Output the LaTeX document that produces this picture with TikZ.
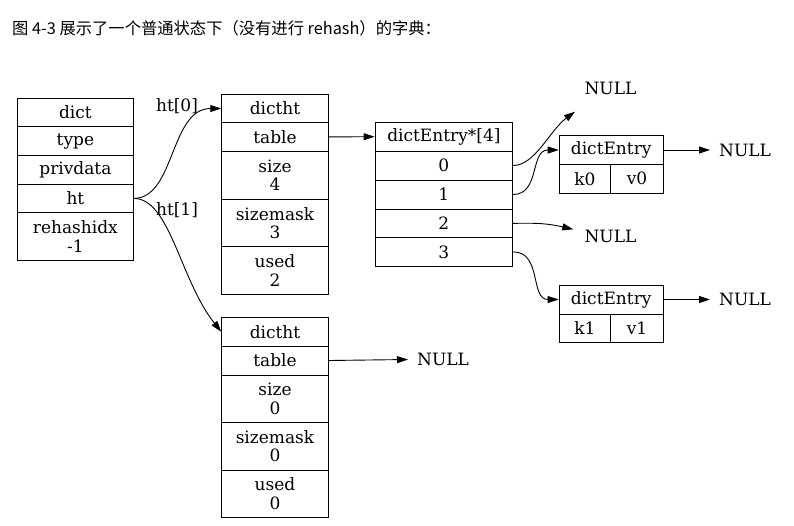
\documentclass[tikz,border=0pt]{standalone}
\usepackage{fontspec}
\newfontfamily\cjk{Noto Sans CJK SC}
\newfontfamily\dfont{DejaVu Serif}
\usetikzlibrary{arrows.meta}
\begin{document}
\begin{tikzpicture}[x=1pt,y=-1pt,
  cell/.style={draw, line width=0.9pt, inner sep=0pt, align=center,
    font=\dfont\fontsize{17}{18.3}\selectfont},
  nulltxt/.style={inner xsep=9pt, inner ysep=2pt, font=\dfont\fontsize{17}{18.3}\selectfont},
  lbl/.style={inner sep=0pt, font=\dfont\fontsize{17}{18.3}\selectfont},
  arr/.style={-{Triangle[length=11pt,width=7pt]}, line width=0.9pt}]
\useasboundingbox (0,0) rectangle (794,525);
\node[anchor=west, inner sep=0pt, font=\cjk\fontsize{16.3}{17}\selectfont] (title) at (12,28) {图 4-3 展示了一个普通状态下（没有进行 rehash）的字典：};

% dict
\node[cell, minimum width=115.8pt, minimum height=28.4pt] (dict) at (75.4,112.5) {dict};
\node[cell, minimum width=115.8pt, minimum height=29pt] (type) at (75.4,141.2) {type};
\node[cell, minimum width=115.8pt, minimum height=28.3pt] (priv) at (75.4,169.9) {privdata};
\node[cell, minimum width=115.8pt, minimum height=28.7pt] (ht) at (75.4,198.4) {ht};
\node[cell, minimum width=115.8pt, minimum height=47.3pt] (rehash) at (75.4,236.4) {rehashidx\\ -1};

% dictht 0
\node[cell, minimum width=106.6pt, minimum height=28.4pt] (ha) at (275,108.5) {dictht};
\node[cell, minimum width=106.6pt, minimum height=28.3pt] (hatable) at (275,136.9) {table};
\node[cell, minimum width=106.6pt, minimum height=48pt] (hasize) at (275,175) {size\\ 4};
\node[cell, minimum width=106.6pt, minimum height=47.7pt] (hamask) at (275,222.9) {sizemask\\ 3};
\node[cell, minimum width=106.6pt, minimum height=47.3pt] (haused) at (275,270.4) {used\\ 2};

% dictht 1
\node[cell, minimum width=106.6pt, minimum height=28.7pt] (hb) at (275,331.7) {dictht};
\node[cell, minimum width=106.6pt, minimum height=29pt] (hbtable) at (275,360.5) {table};
\node[cell, minimum width=106.6pt, minimum height=47.7pt] (hbsize) at (275,398.9) {size\\ 0};
\node[cell, minimum width=106.6pt, minimum height=47.3pt] (hbmask) at (275,446.4) {sizemask\\ 0};
\node[cell, minimum width=106.6pt, minimum height=47.3pt] (hbused) at (275,493.7) {used\\ 0};

% table array
\node[cell, minimum width=137.7pt, minimum height=28.7pt] (arrh) at (443.9,136.7) {dictEntry*[4]};
\node[cell, minimum width=137.7pt, minimum height=29pt] (s0) at (443.9,165.5) {0};
\node[cell, minimum width=137.7pt, minimum height=29pt] (s1) at (443.9,194.5) {1};
\node[cell, minimum width=137.7pt, minimum height=28.7pt] (s2) at (443.9,223.4) {2};
\node[cell, minimum width=137.7pt, minimum height=28.3pt] (s3) at (443.9,251.9) {3};

% dictEntry 0
\node[cell, minimum width=104.3pt, minimum height=28.6pt] (ea) at (611.2,150) {dictEntry};
\node[cell, minimum width=51.7pt, minimum height=29pt] (k0) at (584.9,178.8) {k0};
\node[cell, minimum width=52.6pt, minimum height=29pt] (v0) at (637,178.8) {v0};

% dictEntry 1
\node[cell, minimum width=104.3pt, minimum height=29pt] (eb) at (611.2,299.5) {dictEntry};
\node[cell, minimum width=51.7pt, minimum height=28.7pt] (k1) at (584.9,328.4) {k1};
\node[cell, minimum width=52.6pt, minimum height=28.7pt] (v1) at (637,328.4) {v1};

% NULLs
\node[lbl] (nulla) at (610.5,88.3) {NULL};
\coordinate (nullaend) at (575,111.7);
\node[nulltxt, anchor=west] (nullb) at (710,150) {NULL};
\node[lbl] (nullc) at (610.5,236.7) {NULL};
\coordinate (nullcend) at (573.3,229.3);
\node[nulltxt, anchor=west] (nulld) at (710,299.5) {NULL};
\node[nulltxt, anchor=west] (nulle) at (408,359.5) {NULL};

% labels
\node[lbl] (l0) at (177,106.5) {ht[0]};
\node[lbl] (l1) at (177,210) {ht[1]};

% edges
\draw[arr] (ht.east) .. controls (175,198.4) and (170,108.5) .. (ha.west);
\draw[arr] (ht.east) .. controls (170,198.4) and (180,280) .. (hb.west);
\draw[arr] (hatable.east) -- (arrh.west);
\draw[arr] (hbtable.east) -- (nulle.west);
\draw[arr] (s0.east) .. controls (535,165.5) and (550,130) .. (nullaend);
\draw[arr] (s1.east) .. controls (540,194.5) and (530,150) .. (ea.west);
\draw[arr] (s2.east) .. controls (540,222.7) and (550,224) .. (nullcend);
\draw[arr] (s3.east) .. controls (542,251.9) and (530,299.5) .. (eb.west);
\draw[arr] (ea.east) -- (nullb.west);
\draw[arr] (eb.east) -- (nulld.west);
\end{tikzpicture}
\end{document}
